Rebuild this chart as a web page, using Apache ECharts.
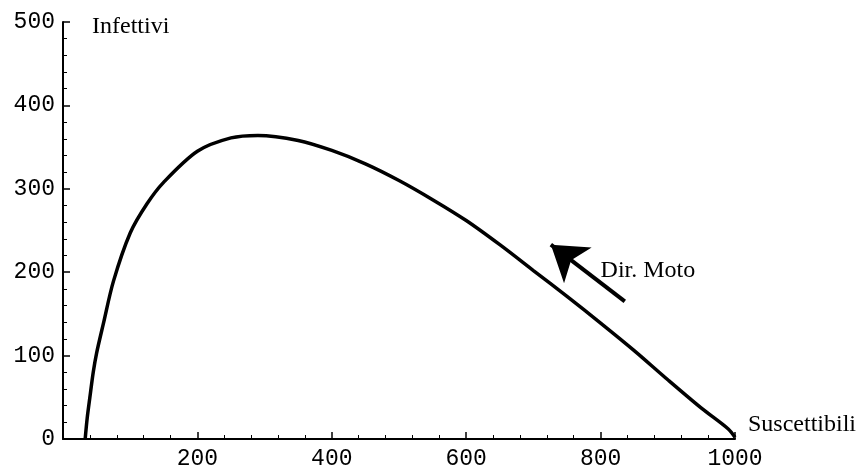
<!DOCTYPE html>
<html>
<head>
<meta charset="utf-8">
<script src="https://cdn.jsdelivr.net/npm/echarts@6/dist/echarts.min.js"></script>
<style>
  html, body { margin: 0; padding: 0; background: #fff; }
  #chart { width: 859px; height: 470px; }
</style>
</head>
<body>
<div id="chart"></div>
<script>
// valori (S = suscettibili, I = infettivi)
const suscettibili = [33, 36, 40, 45, 50, 60, 75, 100, 125, 150, 200, 250, 290, 350, 400, 450, 500, 550, 600, 650, 700, 750, 800, 850, 900, 950, 990, 1000]
const infettivi = [0, 25, 50, 80, 103, 138, 189, 247, 282, 308, 345, 361, 364, 358, 346, 330, 310, 287, 262, 233, 202, 171, 139, 106, 71, 37, 12, 2]

const xTicks = [0, 200, 400, 600, 800, 1000]
const yTicks = [0, 100, 200, 300, 400, 500]

// freccia "Dir. Moto" (coordinate nei dati)
const arrowFrom = [836, 165]
const arrowTo = [726, 233]
const noteAt = [800, 202]

const curve = suscettibili.map((s, i) => [s, infettivi[i]])

const monoFont = 'Liberation Mono'
const serifFont = 'Liberation Serif'

let myChart = echarts.init(document.getElementById('chart'))

const options = {
  animation: false,
  grid: {
    left: 63,
    right: 124,
    top: 22,
    bottom: 28
  },
  xAxis: {
    type: 'value',
    min: xTicks[0],
    max: xTicks[xTicks.length - 1],
    interval: xTicks[1] - xTicks[0],
    name: 'Suscettibili',
    nameLocation: 'end',
    nameGap: 13,
    nameTextStyle: {
      fontFamily: serifFont,
      fontSize: 24,
      color: '#000',
      align: 'left',
      verticalAlign: 'bottom',
      padding: [0, 0, 2, 0]
    },
    axisLine: { lineStyle: { color: '#000', width: 2 } },
    axisTick: { inside: true, length: 7, lineStyle: { color: '#000', width: 1.5 } },
    minorTick: { show: true, splitNumber: 5, length: 4, lineStyle: { color: '#000', width: 1 } },
    axisLabel: {
      showMinLabel: false,
      formatter: v => String(v),
      fontFamily: monoFont,
      fontSize: 23,
      color: '#000',
      margin: 8
    },
    splitLine: { show: false }
  },
  yAxis: {
    type: 'value',
    min: yTicks[0],
    max: yTicks[yTicks.length - 1],
    interval: yTicks[1] - yTicks[0],
    name: 'Infettivi',
    nameLocation: 'end',
    nameGap: -5,
    nameTextStyle: {
      fontFamily: serifFont,
      fontSize: 24,
      color: '#000',
      align: 'left',
      verticalAlign: 'middle',
      padding: [0, 0, 0, 29]
    },
    axisLine: { show: true, lineStyle: { color: '#000', width: 2 } },
    axisTick: { show: true, inside: true, length: 7, lineStyle: { color: '#000', width: 1.5 } },
    minorTick: { show: true, splitNumber: 5, length: 4, lineStyle: { color: '#000', width: 1 } },
    axisLabel: {
      formatter: v => String(v),
      fontFamily: monoFont,
      fontSize: 23,
      color: '#000',
      margin: 8
    },
    splitLine: { show: false }
  },
  series: [
    {
      type: 'line',
      data: curve,
      smooth: 0.3,
      symbol: 'none',
      lineStyle: { color: '#000', width: 3.5 },
      markLine: {
        silent: true,
        symbol: ['none', 'arrow'],
        symbolSize: 34,
        label: { show: false },
        lineStyle: { color: '#000', width: 4, type: 'solid', opacity: 1 },
        itemStyle: { color: '#000' },
        data: [[{ coord: arrowFrom }, { coord: arrowTo }]]
      }
    },
    {
      type: 'scatter',
      data: [noteAt],
      symbolSize: 0,
      itemStyle: { opacity: 1 },
      label: {
        show: true,
        position: 'right',
        distance: 0,
        formatter: 'Dir. Moto',
        fontFamily: serifFont,
        fontSize: 24,
        color: '#000',
        opacity: 1
      }
    }
  ]
}

myChart.setOption(options)
</script>
</body>
</html>
